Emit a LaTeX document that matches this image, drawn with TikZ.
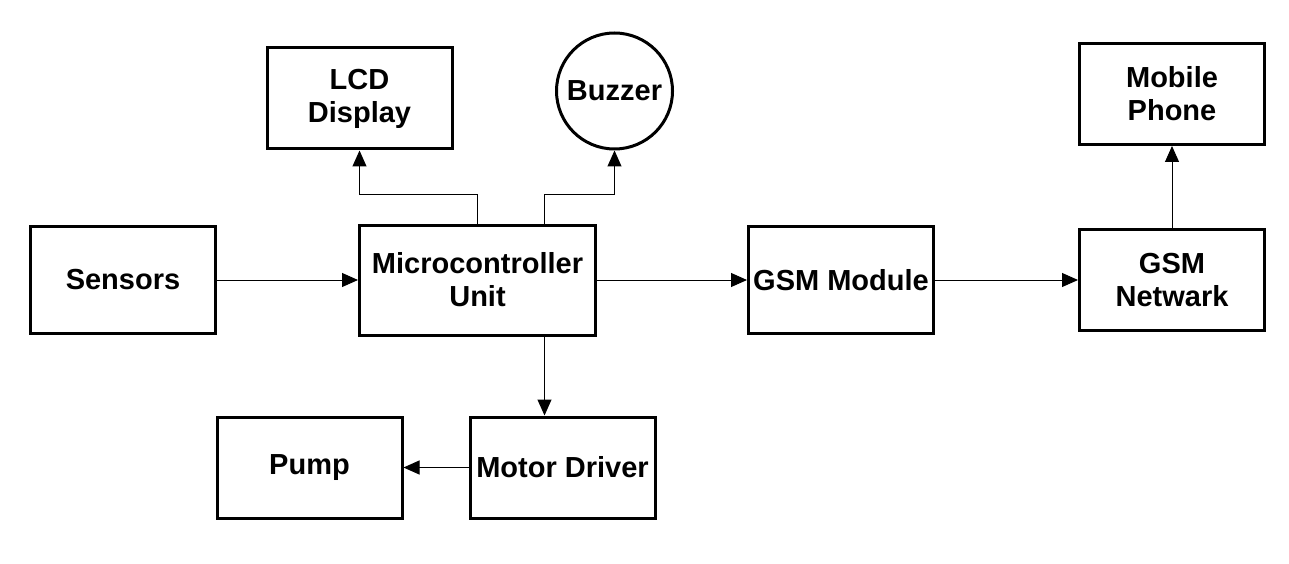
\documentclass[tikz,border=0pt]{standalone}
\usepackage{fontspec}
\setmainfont{Liberation Sans}
\usetikzlibrary{positioning, arrows.meta}

\begin{document}
\begin{tikzpicture}[node distance=141pt, line width=1pt, -{Triangle[length=16pt,width=14pt]},
    block/.style={draw, line width=3pt, minimum width=185pt, minimum height=101pt, inner sep=0pt, align=center, font=\fontsize{29}{33}\selectfont\bfseries}]
        \useasboundingbox (0,0) rectangle (1289pt,-564pt);

        \node[block, minimum height=107pt] (sensors) at (123pt,-280pt) {Sensors};
        \node[block, minimum width=236pt, minimum height=110pt] (mcu) [right=of sensors] {Microcontroller\\Unit};
        \node[block, minimum height=107pt] (gsm) [right=150pt of mcu] {GSM Module};
        \node[block] (net) [right=143pt of gsm] {GSM\\Netwark};
        \node[block] (phone) [above=82pt of net] {Mobile\\Phone};
        \node[block] (lcd) [above=73pt of mcu, xshift=-118pt] {LCD\\Display};
        \node[block, circle, minimum size=116pt] (buzzer) [above=73pt of mcu, xshift=137pt] {Buzzer};
        \node[block] (motor) [below=79pt of mcu, xshift=85pt] {Motor Driver};
        \node[block] (pump) [left=65pt of motor] {Pump};

        \coordinate (tap) at ([xshift=67pt]mcu.south);

        \path (sensors) edge (mcu);
        \path (mcu) edge (gsm);
        \path (gsm) edge (net);
        \path (net) edge (phone);
        \draw (mcu.north) -- ++(0,29pt) -| (lcd.south);
        \draw ([xshift=67pt]mcu.north) -- ++(0,29pt) -| (buzzer.south);
        \draw (tap) -- (tap |- motor.north);
        \path (motor) edge (pump);
    \end{tikzpicture}
\end{document}
